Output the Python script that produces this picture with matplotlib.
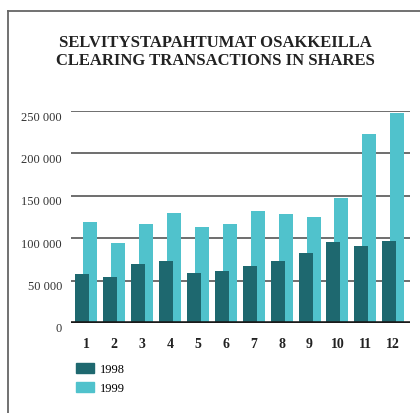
import numpy as np
import matplotlib
matplotlib.use("Agg")
import matplotlib.pyplot as plt
import matplotlib.lines as mlines
import matplotlib.patches as mpatches
import matplotlib.transforms as mtransforms

plt.rcParams['font.family'] = ['Liberation Serif', 'DejaVu Serif']

months = [1, 2, 3, 4, 5, 6, 7, 8, 9, 10, 11, 12]
v1998 = [57200, 54000, 69600, 73600, 59200, 60800, 66800, 73600, 82400, 95200, 90500, 96400]
v1999 = [118800, 94100, 116900, 130200, 113300, 116900, 132200, 128300, 124700, 147500, 223300, 247600]
yticks = [0, 50000, 100000, 150000, 200000, 250000]
ylabels = ['0', '50 000', '100 000', '150 000', '200 000', '250 000']
title = 'SELVITYSTAPAHTUMAT OSAKKEILLA\nCLEARING TRANSACTIONS IN SHARES'

c98 = '#1e686f'
c99 = '#50c2cc'

fig = plt.figure(figsize=(4.2, 4.14), dpi=100)
ax = fig.add_axes([71/420, 1 - 324/414, (410 - 71)/420, (324 - 112)/414])

x = np.array(months)
w = 0.5
off = 0.143
ax.bar(x + off, v1999, w, color=c99, zorder=2)
ax.bar(x - off, v1998, w, color=c98, zorder=3)

ax.set_xlim(0.463, 12.596)
ax.set_ylim(0, 250000)
ax.set_yticks(yticks)
ax.set_yticklabels(ylabels)
ax.set_xticks(months)
ax.set_xticklabels([str(m) for m in months], fontweight='bold')
ax.tick_params(axis='y', length=0, pad=6.5, labelsize=9, labelcolor='#333333')
ax.tick_params(axis='x', length=0, pad=10, labelsize=10, labelcolor='#222222')
# y labels sit a bit below their gridlines
shift = mtransforms.ScaledTranslation(0, -4/100, fig.dpi_scale_trans)
for lab in ax.get_yticklabels():
    lab.set_transform(lab.get_transform() + shift)

ax.yaxis.grid(True, color='#555555', lw=1.2, zorder=0)
ax.set_axisbelow(True)
ax.axhline(0, color='#1a1a1a', lw=2.6, zorder=4)
for s in ax.spines.values():
    s.set_visible(False)

fig.text(215/420, 1 - 52/414, title, ha='center', va='center',
         fontsize=12, fontweight='bold', color='#222222', linespacing=1.15)

# frame on top and left
fig.add_artist(mlines.Line2D([8/420, 1], [1 - 12/414, 1 - 12/414], color='#666666', lw=1.3))
fig.add_artist(mlines.Line2D([8/420, 8/420], [1 - 12/414, 0], color='#666666', lw=1.3))

h98 = mpatches.Patch(color=c98, label='1998')
h99 = mpatches.Patch(color=c99, label='1999')
fig.legend(handles=[h98, h99], loc='upper left', bbox_to_anchor=(76/420, 1 - 364/414),
           frameon=False, borderpad=0, borderaxespad=0, handlelength=1.45,
           handleheight=0.85, handletextpad=0.45, labelspacing=0.5, fontsize=9)

fig.savefig('out.png', dpi=100)
